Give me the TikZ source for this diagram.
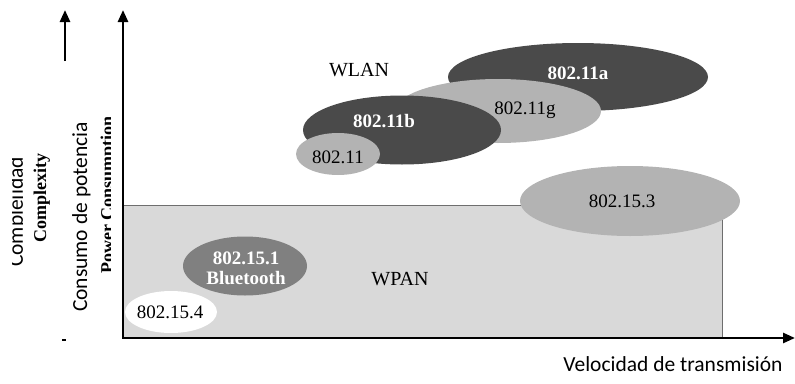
\documentclass[tikz,border=0pt]{standalone}
\usepackage{fontspec}
\setmainfont{Liberation Serif}
\newfontfamily\sansfam{Carlito}
\usetikzlibrary{shapes.geometric,arrows.meta}
\definecolor{darkfill}{HTML}{4A4A4A}
\definecolor{lightfill}{HTML}{B3B3B3}
\definecolor{midfill}{HTML}{808080}
\definecolor{panfill}{HTML}{D9D9D9}
\definecolor{edgegray}{HTML}{6E6E6E}

\begin{document}
\begin{tikzpicture}[x=1pt,y=-1pt,
  blob/.style={ellipse, inner sep=0pt},
  dark/.style={blob, fill=darkfill},
  light/.style={blob, fill=lightfill},
  lbl/.style={font=\fontsize{19}{22}\selectfont, inner sep=0pt},
  lblw/.style={font=\fontsize{19}{22}\selectfont\bfseries, text=white, inner sep=0pt},
  group/.style={font=\fontsize{20}{23}\selectfont, inner sep=0pt},
  boldvert/.style={font=\fontsize{18}{21}\selectfont\bfseries, rotate=90, anchor=base, inner sep=0pt},
  axislabel/.style={font=\sansfam\fontsize{21.5}{24}\selectfont, inner sep=0pt},
  tip/.style={-{Triangle[length=12pt,width=10pt]}},
  axisline/.style={line width=2.6pt, miter limit=10}]
\useasboundingbox (0,0) rectangle (795,383);

% WPAN region
\fill[panfill] (123,205) rectangle (722,338);
\draw[edgegray, line width=0.9pt] (123,205) -- (722,205) -- (722,338);

% WLAN technologies
\node[dark, minimum width=260pt, minimum height=68pt] (a) at (578,77) {};
\node[lblw] (alabel) at (578,73) {802.11a};
\node[light, minimum width=206pt, minimum height=64pt] (g) at (498,111) {};
\node[lbl] (glabel) at (525,110) {802.11g};
\node[dark, minimum width=198pt, minimum height=69pt] (b) at (402,130) {};
\node[lblw] (blabel) at (384,121) {802.11b};
\node[light, minimum width=84pt, minimum height=42pt] (o) at (338,154) {};
\node[lbl] (olabel) at (338,157) {802.11};
\node[group] (wlan) at (359,70) {WLAN};

% WPAN technologies
\node[light, minimum width=220pt, minimum height=70pt] (p3) at (630,201) {};
\node[lbl] (p3label) at (622,201) {802.15.3};
\node[blob, fill=midfill, minimum width=124pt, minimum height=59pt] (bt) at (245,266) {};
\node[lblw, align=center] (btlabel) at (246,268) {802.15.1\\[-2pt]Bluetooth};
\node[blob, fill=white, minimum width=92pt, minimum height=42pt] (p4) at (171,312) {};
\node[lbl] (p4label) at (170,312) {802.15.4};
\node[group] (wpan) at (400,279) {WPAN};

% axes
\coordinate (origin) at (123,338);
\coordinate (ytip) at (123,10);
\coordinate (xtip) at (795,338);
\draw[axisline, {Triangle[length=12pt,width=10pt]}-{Triangle[length=12pt,width=10pt]}] (ytip) -- (origin) -- (xtip);
\coordinate (s0) at (65,61);
\coordinate (s1) at (65,10);
\draw[axisline, tip] (s0) -- (s1);
\draw[line width=1.5pt] (62,340) -- (66,340);

% axis titles
\node[axislabel, anchor=base] (vel) at (673,371) {Velocidad de transmisión};
\node[axislabel, rotate=90, anchor=base] (cons) at (87,217) {Consumo de potencia};
\node[boldvert] (cx) at (46,198) {Complexity};
\begin{scope}
  \clip (12,0) rectangle (22.5,383);
  \node[axislabel, rotate=90, anchor=base] (cj) at (23,212) {Complejidad};
\end{scope}
\begin{scope}
  \clip (95,0) rectangle (110,383);
  \node[boldvert] (pc) at (113,195) {Power Consumption};
\end{scope}
\end{tikzpicture}
\end{document}
